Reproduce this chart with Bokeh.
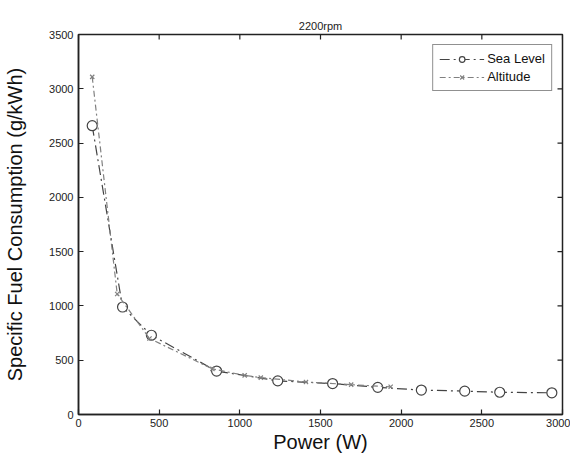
import math
from bokeh.plotting import figure
from bokeh.models import LinearAxis, Range1d, Legend, LegendItem
from bokeh.embed import file_html
from bokeh.resources import INLINE

power_sea = [85, 273, 452, 856, 1235, 1575, 1855, 2125, 2394, 2611, 2934]
sfc_sea = [2660, 990, 730, 400, 310, 285, 250, 225, 215, 205, 200]

power_alt = [85, 240, 440, 830, 1030, 1130, 1410, 1690, 1935]
sfc_alt = [3110, 1110, 700, 420, 360, 340, 300, 275, 255]

x_ticks = [0, 500, 1000, 1500, 2000, 2500, 3000]
y_ticks = [0, 500, 1000, 1500, 2000, 2500, 3000, 3500]

X_MAX = 3000
Y_MAX = 3500

FONT = "Liberation Sans"

p = figure(width=570, height=456, output_backend="svg", toolbar_location=None,
           x_range=Range1d(0, X_MAX), y_range=Range1d(0, Y_MAX),
           min_border_left=78, min_border_right=8, min_border_top=34, min_border_bottom=42,
           x_axis_type=None, y_axis_type=None)
p.grid.visible = False
p.outline_line_color = "#222222"
p.outline_line_width = 1.5
p.background_fill_color = "white"
p.border_fill_color = "white"

p.title.text = "2200rpm"
p.title.align = "center"
p.title.text_font = FONT
p.title.text_font_size = "11px"
p.title.text_font_style = "normal"
p.title.text_color = "#222222"
p.title.standoff = 6


def make_axis(ticks, label):
    ax = LinearAxis(ticker=ticks)
    ax.major_tick_in = 5
    ax.major_tick_out = 0
    ax.minor_tick_in = 0
    ax.minor_tick_out = 0
    ax.axis_line_color = "#222222"
    ax.axis_line_width = 1.5
    ax.major_tick_line_color = "#222222"
    ax.major_tick_line_width = 1.2
    ax.major_label_text_font = FONT
    ax.major_label_text_color = "#222222"
    ax.major_label_text_font_size = "11px"
    ax.axis_label = label
    ax.axis_label_text_font = FONT
    ax.axis_label_text_font_size = "20px"
    ax.axis_label_text_font_style = "normal"
    ax.axis_label_text_color = "#111111"
    return ax


xb = make_axis(x_ticks, "Power (W)")
xb.major_label_standoff = 4
xb.axis_label_standoff = 1
yl = make_axis(y_ticks, "Specific Fuel Consumption (g/kWh)")
yl.major_label_standoff = 5
yl.axis_label_standoff = 20
p.add_layout(xb, "below")
p.add_layout(yl, "left")

# inward ticks on the top and right edges (half of each dash is clipped by the frame)
p.scatter(x_ticks, [Y_MAX] * len(x_ticks), marker="dash", size=10, angle=math.pi / 2,
          line_color="#222222", line_width=1.2)
p.scatter([X_MAX] * len(y_ticks), y_ticks, marker="dash", size=10,
          line_color="#222222", line_width=1.2)

sea_color = "#444444"
alt_color = "#808080"

l1 = p.line(power_sea, sfc_sea, line_color=sea_color, line_width=1.2, line_dash="10 4 2 4")
m1 = p.scatter(power_sea, sfc_sea, marker="circle", size=10, fill_color="white",
               line_color=sea_color, line_width=1.2)
l2 = p.line(power_alt, sfc_alt, line_color=alt_color, line_width=1.2, line_dash="6 3 2 3")
m2 = p.scatter(power_alt, sfc_alt, marker="x", size=6, line_color=alt_color, line_width=1.2)

legend = Legend(items=[LegendItem(label="Sea Level", renderers=[l1, m1]),
                       LegendItem(label="Altitude", renderers=[l2, m2])],
                location="top_right")
legend.label_text_font = FONT
legend.label_text_font_size = "13px"
legend.label_text_color = "#111111"
legend.glyph_width = 45
legend.glyph_height = 14
legend.label_standoff = 3
legend.spacing = 3
legend.padding = 6
legend.margin = 10
legend.border_line_color = "#222222"
legend.border_line_width = 1.5
legend.background_fill_color = "white"
legend.background_fill_alpha = 1.0
p.add_layout(legend, "center")

open("out.html", "w").write(file_html(p, INLINE))
